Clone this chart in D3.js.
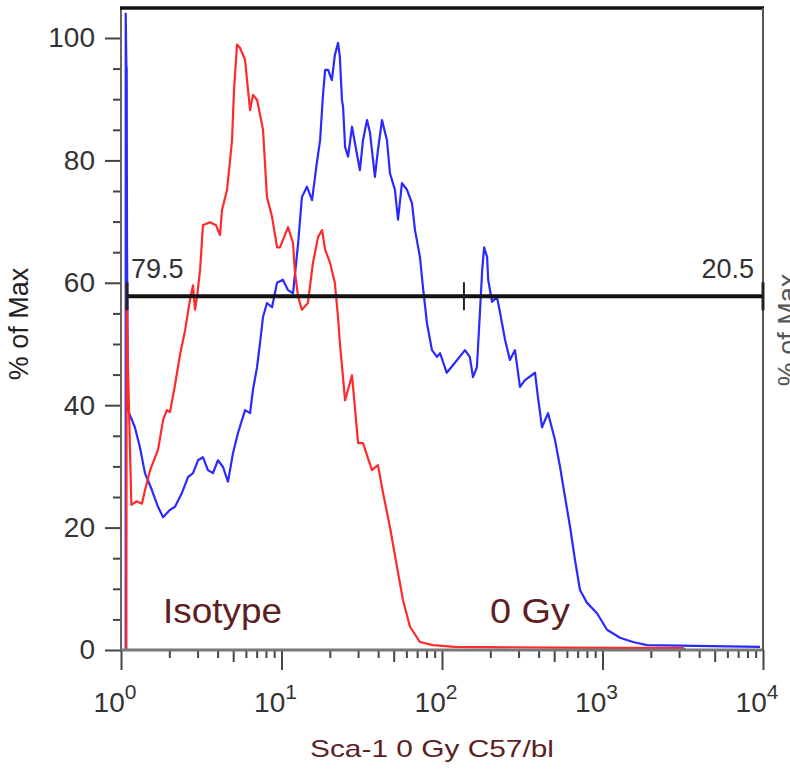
<!DOCTYPE html>
<html><head><meta charset="utf-8">
<script src="https://cdn.jsdelivr.net/npm/d3@7"></script>
<style>
html,body{margin:0;padding:0;background:#fff;}
svg{display:block;font-family:"Liberation Sans",Arial,sans-serif;}
</style></head>
<body><svg id="chart" width="790" height="769"></svg>
<script>
// Isotype (red) histogram: [intensity, % of max]
const isotype = [[1.08,0],[1.085,59.6],[1.10,48.5],[1.16,23.7],[1.25,24.3],[1.35,23.9],[1.41,26.1],[1.52,29.4],[1.70,32.7],[1.83,37.6],[1.93,39.2],[2.02,38.9],[2.17,43.3],[2.33,48.2],[2.51,52.3],[2.69,57.2],[2.81,59.6],[2.89,55.6],[2.98,57.8],[3.11,62.1],[3.24,69.4],[3.58,69.9],[3.91,69.4],[4.14,67.8],[4.26,71.9],[4.58,75.2],[4.92,83.3],[5.06,91.5],[5.28,98.9],[5.51,98.4],[5.93,96.4],[6.10,93.1],[6.37,88.2],[6.64,90.7],[7.04,89.9],[7.67,85.0],[8.12,74.0],[8.73,70.8],[9.38,65.8],[9.79,65.8],[10.98,69.1],[11.8,66.5],[12.1,62.0],[12.7,57.7],[13.4,55.6],[14.6,56.7],[15.7,63.2],[16.9,67.5],[17.9,68.6],[18.7,65.4],[20.1,63.2],[21.5,60.0],[22.5,54.4],[23.1,50.2],[24.9,40.8],[27.5,44.9],[30.0,33.8],[32.2,33.8],[36.6,29.4],[39.9,30.2],[42.9,25.7],[47.4,20.1],[52.4,13.6],[57.1,8.2],[63.2,3.8],[72.9,1.3],[87.9,0.8],[120,0.5],[500,0.4],[3175,0.3],[3300,0]];
// 0 Gy (blue) histogram: [intensity, % of max]
const gy0 = [[1.07,0],[1.07,104],[1.08,95.5],[1.085,95],[1.09,66],[1.105,39.2],[1.22,36.4],[1.31,33.2],[1.41,28.9],[1.56,26.1],[1.70,23.4],[1.83,21.7],[2.02,22.9],[2.17,23.4],[2.40,25.7],[2.62,28.3],[2.81,28.9],[3.02,31.0],[3.24,31.5],[3.48,29.4],[3.74,28.9],[4.02,31.0],[4.32,29.9],[4.64,27.5],[4.99,32.2],[5.36,35.5],[5.93,39.2],[6.37,38.7],[6.64,42.5],[7.04,46.2],[7.35,50.2],[7.67,54.4],[8.12,56.7],[8.73,56.0],[9.38,60.0],[10.2,60.5],[10.98,58.8],[11.8,58.3],[12.7,66.5],[13.4,74.0],[14.4,75.7],[15.5,73.5],[16.6,79.6],[17.4,83.3],[18.1,90.4],[18.7,94.8],[19.5,94.8],[20.6,93.1],[21.5,97.2],[22.5,99.2],[23.1,96.9],[23.8,89.9],[24.2,88.7],[24.9,82.2],[26.0,80.6],[27.5,85.5],[28.7,82.8],[30.8,78.4],[32.2,83.3],[34.1,86.6],[35.6,84.5],[38.2,77.3],[39.9,81.7],[42.3,86.6],[45.4,83.3],[47.4,77.9],[50.9,75.2],[53.2,70.3],[56.3,76.3],[60.5,75.2],[65.0,73.0],[67.9,68.6],[72.9,64.2],[76.1,59.3],[80.6,53.4],[86.6,49.0],[93.1,47.9],[97.2,48.5],[107,45.3],[120,46.9],[139,49.0],[149,47.9],[156,44.6],[165,46.2],[173,56.0],[178,62.1],[183,65.8],[191,64.2],[194,60.5],[205,56.9],[220,57.7],[230,55.1],[247,50.7],[265,47.4],[285,49.0],[306,43.0],[329,44.1],[380,45.3],[396,41.3],[420,36.4],[458,38.7],[506,34.3],[544,29.9],[584,25.0],[628,20.1],[674,14.7],[724,9.8],[801,7.7],[924,6.0],[1067,3.3],[1285,2.0],[1549,1.3],[1894,0.8],[9580,0.5]];
const yTicks = [0,20,40,60,80,100];
const xDecades = [1,10,100,1000,10000];
const xExponents = ["0","1","2","3","4"];
const gate = {y:57.8, from:1.09, mid:137, to:10000};
const gateLabels = ["79.5","20.5"];
const seriesLabels = ["Isotype","0 Gy"];
const xTitle = "Sca-1 0 Gy C57/bl";
const yTitle = "% of Max";

const svg = d3.select("#chart");
const L=121, R=763, T=8, B=650;
const x = d3.scaleLog().domain([1,10000]).range([L,R]);
const y = d3.scaleLinear().domain([0,104.9]).range([B,T]);
const axisCol = "#444", textCol = "#333", titleRed = "#5e1f22";

// curves
const line = d3.line().x(d=>x(d[0])).y(d=>y(d[1])).curve(d3.curveLinear);
svg.append("path").datum(gy0).attr("d",line).attr("fill","none").attr("stroke","#2a2aff").attr("stroke-width",2.2).attr("stroke-linejoin","round");
svg.append("path").datum(isotype).attr("d",line).attr("fill","none").attr("stroke","#ff2a2a").attr("stroke-width",2.2).attr("stroke-linejoin","round");

// Y axis
const yMinor = d3.range(0,105,5).filter(v=>v%20!==0);
const gy = svg.append("g").attr("transform",`translate(${L},0)`);
gy.call(d3.axisLeft(y).tickValues(yMinor).tickSize(8).tickFormat(""));
gy.call(g=>g.selectAll(".tick line").attr("stroke",axisCol).attr("stroke-width",2));
const gyM = svg.append("g").attr("transform",`translate(${L},0)`);
gyM.call(d3.axisLeft(y).tickValues(yTicks).tickSize(16).tickPadding(10).tickFormat(d3.format("d")));
gyM.selectAll(".tick line").attr("stroke",axisCol).attr("stroke-width",2);
gyM.selectAll(".tick text").attr("fill",textCol).style("font-size","28px").attr("font-family","Liberation Sans, Arial");
svg.selectAll(".domain").remove();
svg.append("line").attr("x1",L).attr("x2",L).attr("y1",T).attr("y2",B+2).attr("stroke","#666").attr("stroke-width",2);

// X axis
const xMinor = [];
xDecades.slice(0,-1).forEach(d=>{for(let k=2;k<=9;k++) xMinor.push(d*k);});
const gx = svg.append("g").attr("transform",`translate(0,${B})`);
gx.call(d3.axisBottom(x).tickValues(xMinor).tickSize(8).tickFormat(""));
gx.selectAll(".tick line").attr("stroke",axisCol).attr("stroke-width",2)
  .attr("y2",d=>{const m=d/Math.pow(10,Math.floor(Math.log10(d)+1e-9));return Math.abs(m-5)<0.01?12:8;});
const gxM = svg.append("g").attr("transform",`translate(0,${B})`);
gxM.call(d3.axisBottom(x).tickValues(xDecades).tickSize(20).tickFormat(""));
gxM.selectAll(".tick line").attr("stroke",axisCol).attr("stroke-width",2);
svg.selectAll(".domain").remove();
svg.append("line").attr("x1",L).attr("x2",R).attr("y1",B).attr("y2",B).attr("stroke","#777").attr("stroke-width",3);
// x tick labels with superscripts
xDecades.forEach((d,i)=>{
  const t = svg.append("text").attr("x",x(d)-6).attr("y",712).attr("text-anchor","middle")
    .attr("fill",textCol).style("font-size","28px");
  t.append("tspan").text("10");
  t.append("tspan").attr("dy",-13).style("font-size","21px").text(xExponents[i]);
});

// frame: top and right
svg.append("line").attr("x1",L-1).attr("x2",R+1).attr("y1",T).attr("y2",T).attr("stroke","#111").attr("stroke-width",3.5);
svg.append("line").attr("x1",R).attr("x2",R).attr("y1",T).attr("y2",B).attr("stroke","#555").attr("stroke-width",2);

// gate
const gyPos = y(gate.y);
svg.append("line").attr("x1",x(gate.from)).attr("x2",x(gate.to)).attr("y1",gyPos).attr("y2",gyPos).attr("stroke","#111").attr("stroke-width",4);
[gate.from, gate.mid, gate.to].forEach(v=>{
  svg.append("line").attr("x1",x(v)).attr("x2",x(v)).attr("y1",gyPos-14).attr("y2",gyPos+14)
    .attr("stroke","#222").attr("stroke-width",v===gate.mid?2:3);
});
svg.append("text").attr("x",x(gate.from)+4).attr("y",gyPos-18).attr("fill",textCol).style("font-size","27px").text(gateLabels[0]);
svg.append("text").attr("x",x(gate.to)-9).attr("y",gyPos-18).attr("text-anchor","end").attr("fill",textCol).style("font-size","27px").text(gateLabels[1]);

// series labels
svg.append("text").attr("x",163).attr("y",623).attr("fill",titleRed).style("font-size","35px").attr("textLength",119).attr("lengthAdjust","spacingAndGlyphs").text(seriesLabels[0]);
svg.append("text").attr("x",490).attr("y",623).attr("fill",titleRed).style("font-size","35px").attr("textLength",80).attr("lengthAdjust","spacingAndGlyphs").text(seriesLabels[1]);

// axis titles
svg.append("text").attr("x",432).attr("y",757).attr("text-anchor","middle").attr("fill",titleRed)
  .style("font-size","24px").attr("textLength",244).attr("lengthAdjust","spacingAndGlyphs").text(xTitle);
svg.append("text").attr("transform","translate(28,324) rotate(-90)").attr("text-anchor","middle").attr("fill","#222").style("font-size","27px").text(yTitle);
// neighbouring panel's clipped y title
svg.append("text").attr("transform","translate(797,330) rotate(-90)").attr("text-anchor","middle").attr("fill","#555").style("font-size","27px").text(yTitle);
</script></body></html>
